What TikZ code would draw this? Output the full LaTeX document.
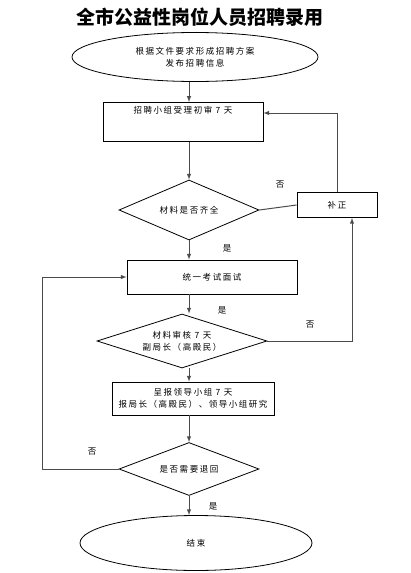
\documentclass[tikz,border=0pt]{standalone}
\usepackage{fontspec}
\newfontfamily\cjk[LetterSpace=18]{Noto Sans CJK SC}
\newfontfamily\cjktitle{Noto Sans CJK SC}
\usetikzlibrary{shapes.geometric}

\tikzset{
  box/.style={draw,thick,font=\cjk\fontsize{8.5}{12}\selectfont,align=center,inner sep=0pt},
  oval/.style={ellipse,draw,thick,font=\cjk\fontsize{8.5}{12}\selectfont,align=center,inner sep=0pt},
  test/.style={diamond,aspect=3,draw,thick,font=\cjk\fontsize{8.5}{12}\selectfont,align=center,inner sep=0pt},
  link/.style={draw=black!70,line width=1pt},
  yesno/.style={font=\cjk\fontsize{8.5}{10}\selectfont}
}

\begin{document}
\begin{tikzpicture}[x=1pt,y=-1pt,>=latex]
\useasboundingbox (0,0) rectangle (410,573);
\fill[white] (0,0) rectangle (410,573);

\coordinate (axis) at (189,0);
\node (title) at (200,17) {\cjktitle\fontsize{19}{22}\selectfont\bfseries 全市公益性岗位人员招聘录用};

\node[oval,minimum width=246,minimum height=49] (plan) at (195,57) {根据文件要求形成招聘方案\\发布招聘信息};
\node[box,minimum width=160,minimum height=36,text depth=24pt,inner ysep=4pt] (accept) at (183,122) {招聘小组受理初审 7 天};
\node[test,minimum width=140,minimum height=60] (full) at (189,210) {材料是否齐全};
\node[box,minimum width=80,minimum height=25] (fix) at (337,205) {补正};
\node[box,minimum width=170,minimum height=34] (exam) at (212,277) {统一考试面试};
\node[test,minimum width=170,minimum height=54] (check) at (182,341) {材料审核 7 天\\副局长（高殿民）};
\node[box,minimum width=162,minimum height=33] (report) at (193,398.5) {呈报领导小组 7 天\\报局长（高殿民）、领导小组研究};
\node[test,minimum width=140,minimum height=53] (back) at (189,469) {是否需要退回};
\node[oval,minimum width=232,minimum height=55] (done) at (196,543) {结束};
\coordinate (loop) at (42,469);

\draw[link,->] (plan.south -| axis) -- (accept.north -| axis);
\draw[link,->] (accept.south -| axis) -- (full.north);
\draw[link] (full.east) -- (fix.west);
\draw[link,->] (fix.north) |- ([yshift=9pt]accept.east);
\draw[link,->] (full.south) -- (full.south |- exam.north);
\draw[link,->] (exam.south -| axis) -- (check.north -| axis);
\draw[link,->] (check.east) -| ([xshift=15pt]fix.south);
\draw[link,->] (check.south -| axis) -- (report.north -| axis);
\draw[link,->] (report.south -| axis) -- (back.north);
\draw[link,->] (back.west) -- (loop) |- (exam.west);
\draw[link,->] (back.south) -- (done.north -| back.south);

\node[yesno] (no1) at (280,185) {否};
\node[yesno] (yes1) at (227,248) {是};
\node[yesno] (yes2) at (222,310) {是};
\node[yesno] (no2) at (310,325) {否};
\node[yesno] (no3) at (92,452) {否};
\node[yesno] (yes3) at (213,506) {是};
\end{tikzpicture}
\end{document}
